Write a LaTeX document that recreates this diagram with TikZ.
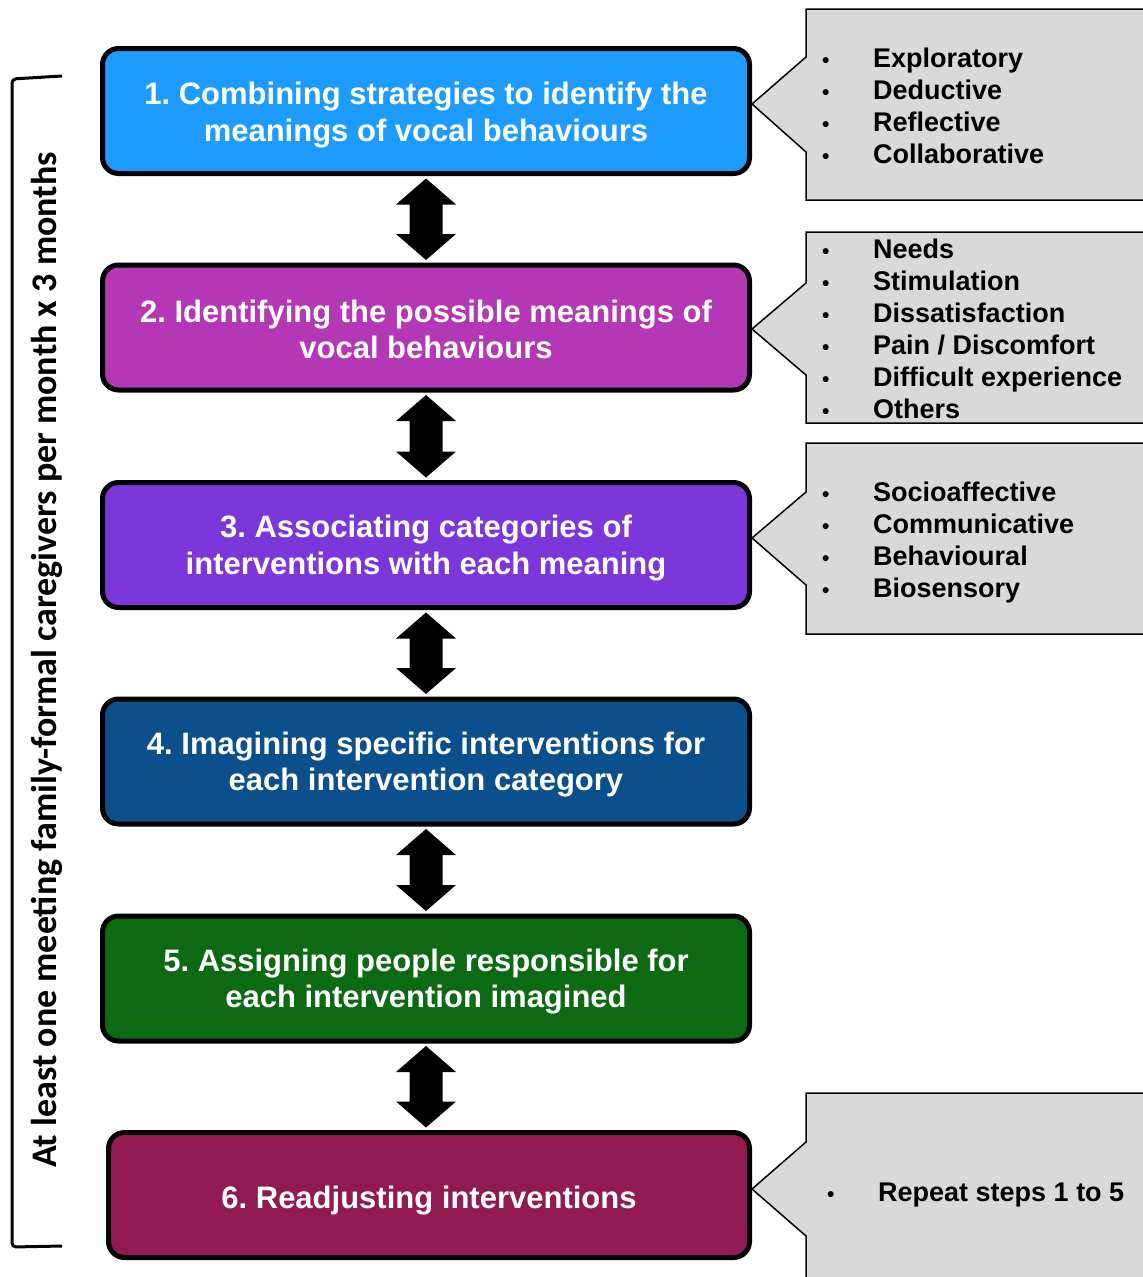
\documentclass[tikz,border=0pt]{standalone}
\usepackage{fontspec}
\setmainfont{Liberation Sans}
\newfontfamily\sidefont{Carlito}
\usetikzlibrary{calc,backgrounds}
\frenchspacing
\definecolor{cA}{HTML}{1E9BFF}
\definecolor{cB}{HTML}{B438B5}
\definecolor{cC}{HTML}{7C37DB}
\definecolor{cD}{HTML}{0B508C}
\definecolor{cE}{HTML}{0C6A12}
\definecolor{cF}{HTML}{911B50}
\definecolor{callgray}{HTML}{D9D9D9}
\tikzset{
  stepbox/.style={draw=black, line width=5pt, rounded corners=16pt, minimum width=647pt,
    minimum height=125pt, inner sep=0pt},
  steptext/.style={text=white, align=center, inner sep=0pt,
    font=\fontsize{31}{36.5}\selectfont\bfseries},
  callout/.style={fill=callgray, draw=black, line width=1.5pt, line join=miter},
  item/.style={anchor=base west, inner sep=0pt, font=\fontsize{27}{32}\selectfont\bfseries},
  dblarrow/.style={fill=black},
  bracket/.style={line width=3pt, rounded corners=4pt},
  sidelabel/.style={rotate=90, inner sep=0pt, font=\sidefont\bfseries\fontsize{36}{36}\selectfont},
}
\newcommand{\bul}[1]{\makebox[#1][l]{\fontsize{21}{21}\selectfont\textbullet}}
\newcommand{\dbl}[2]{\fill[dblarrow] ($(#1.south)+(0,2.5)$) -- ++(30,26) -- ++(-13.5,0)
  -- ($(#1.south |- #2.north)+(16.5,-28.5)$) -- ++(13.5,0) -- ($(#1.south |- #2.north)+(0,-2.5)$)
  -- ++(-30,-26) -- ++(13.5,0) -- ($(#1.south)+(-16.5,28.5)$) -- ++(-13.5,0) -- cycle;}
\begin{document}
\begin{tikzpicture}[x=1pt,y=-1pt]
\useasboundingbox (0,0) rectangle (1143,1277);

% step boxes
\node[stepbox, fill=cA] (b1) at (426,111) {};
\node[stepbox, fill=cB] (b2) at (426,327.5) {};
\node[stepbox, fill=cC] (b3) at (426,545) {};
\node[stepbox, fill=cD] (b4) at (426,761.5) {};
\node[stepbox, fill=cE] (b5) at (426,978.5) {};
\node[stepbox, fill=cF, minimum width=641pt] (b6) at (429,1195) {};

\node[steptext] (t1) at ($(b1.center)+(0,4)$) {1. Combining strategies to identify the\\meanings of vocal behaviours};
\node[steptext] (t2) at ($(b2.center)+(0,2)$) {2. Identifying the possible meanings of\\vocal behaviours};
\node[steptext] (t3) at ($(b3.center)+(0,3)$) {3. Associating categories of\\interventions with each meaning};
\node[steptext] (t4) at ($(b4.center)+(0,3)$) {4. Imagining specific interventions for\\each intervention category};
\node[steptext] (t5) at ($(b5.center)+(0,3)$) {5. Assigning people responsible for\\each intervention imagined};
\node[steptext] (t6) at ($(b6.center)+(0,6)$) {6. Readjusting interventions};

% double arrows
\dbl{b1}{b2}
\dbl{b2}{b3}
\dbl{b3}{b4}
\dbl{b4}{b5}
\dbl{b5}{b6}

% callouts
\begin{scope}[on background layer]
\draw[callout] (806,9) -- (1160,9) -- (1160,200) -- (806,200) -- (806,152) -- ($(b1.east)+(0,-7)$) -- (806,57) -- cycle;
\draw[callout] (806,232) -- (1160,232) -- (1160,423) -- (806,423) -- (806,375) -- ($(b2.east)+(0,1.5)$) -- (806,283) -- cycle;
\draw[callout] (806,443) -- (1160,443) -- (1160,634) -- (806,634) -- (806,585) -- ($(b3.east)+(0,-7)$) -- (806,492) -- cycle;
\draw[callout] (806,1093) -- (1160,1093) -- (1160,1300) -- (806,1300) -- (806,1236) -- ($(b6.east)+(0,-6)$) -- (806,1142) -- cycle;
\end{scope}

% callout texts
\foreach \t [count=\i] in {Exploratory, Deductive, Reflective, Collaborative}
  \node[item] (ca\i) at (822,{67+32*(\i-1)}) {\bul{51pt}\t};
\foreach \t [count=\i] in {Needs, Stimulation, Dissatisfaction, Pain / Discomfort, Difficult experience, Others}
  \node[item] (cb\i) at (822,{258+32*(\i-1)}) {\bul{51pt}\t};
\foreach \t [count=\i] in {Socioaffective, Communicative, Behavioural, Biosensory}
  \node[item] (cc\i) at (822,{501+32*(\i-1)}) {\bul{51pt}\t};
\node[item] (cd1) at (827,1201) {\bul{51pt}Repeat steps 1 to 5};

% bracket and side label
\draw[bracket] (62,76) -- (12,79) -- (12,1247) -- (62,1246);
\node[sidelabel] (side) at (47,660) {At least one meeting family-formal caregivers per month x 3 months};
\end{tikzpicture}
\end{document}
